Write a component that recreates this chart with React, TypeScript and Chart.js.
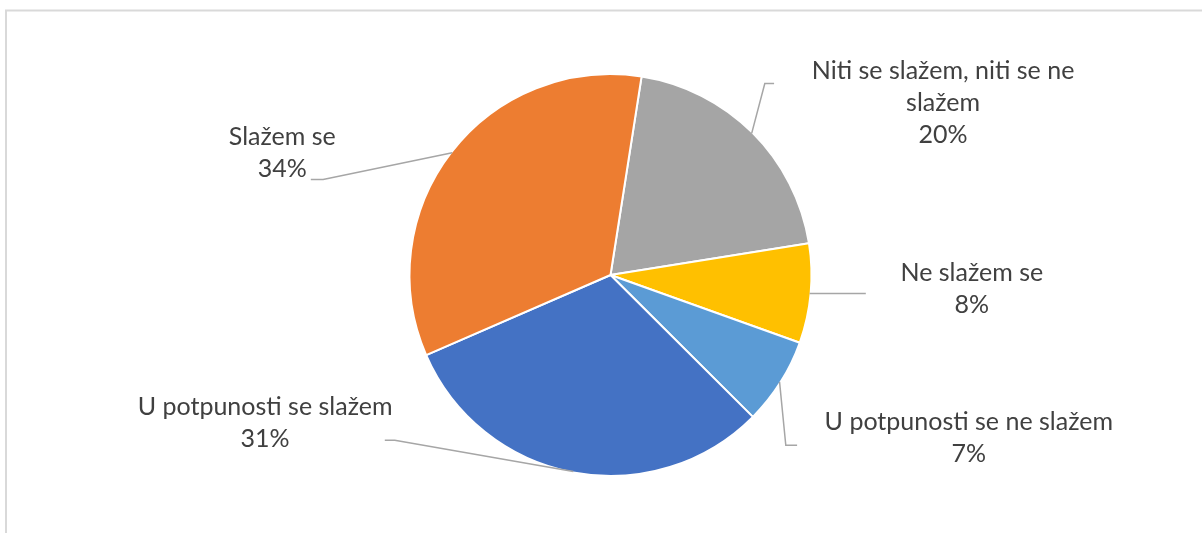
import React, { useEffect, useRef } from "react";
import { Chart, registerables } from "chart.js";

Chart.register(...registerables);

// ---- Data ----
const categories = [
  "Niti se slažem, niti se ne slažem",
  "Ne slažem se",
  "U potpunosti se ne slažem",
  "U potpunosti se slažem",
  "Slažem se",
];
const labelLines = [
  ["Niti se slažem, niti se ne", "slažem"],
  ["Ne slažem se"],
  ["U potpunosti se ne slažem"],
  ["U potpunosti se slažem"],
  ["Slažem se"],
];
const percentages = [20, 8, 7, 31, 34];
const colors = ["#A5A5A5", "#FFC000", "#5B9BD5", "#4472C4", "#ED7D31"];

// ---- Label layout (offsets relative to pie centre, px) ----
// tx: text centre x, ty: first baseline y, ex/ey: leader elbow, lx/ly: leader end
const labelLayout = [
  { tx: 332.6, ty: -195.8, ex: 154.3, ey: -191.5, lx: 163.6, ly: -191.5 },
  { tx: 361.3, ty: 5.9, ex: 239.3, ey: 18.5, lx: 255.3, ly: 18.5 },
  { tx: 358.3, ty: 154.5, ex: 175.3, ey: 170.2, lx: 186.6, ly: 170.2 },
  { tx: -345.4, ty: 140.2, ex: -215.7, ey: 165.2, lx: -225.7, ly: 165.2 },
  { tx: -328.2, ty: -129.8, ex: -287.4, ey: -95.5, lx: -299.7, ly: -95.5 },
];

const FONT = "25px Lato, 'Open Sans', sans-serif";
const LINE_H = 32;

const framePlugin = {
  id: "frame",
  beforeDraw(chart: any) {
    const ctx = chart.ctx;
    ctx.save();
    ctx.fillStyle = "#ffffff";
    ctx.fillRect(0, 0, chart.width, chart.height);
    ctx.strokeStyle = "#d9d9d9";
    ctx.lineWidth = 2;
    ctx.beginPath();
    ctx.moveTo(6, chart.height + 5);
    ctx.lineTo(6, 10.5);
    ctx.lineTo(chart.width + 5, 10.5);
    ctx.stroke();
    ctx.restore();
  },
};

const labelPlugin = {
  id: "pieLabels",
  afterDatasetsDraw(chart: any) {
    const ctx = chart.ctx;
    const meta = chart.getDatasetMeta(0);
    const data = chart.data.datasets[0].data as number[];
    const total = data.reduce((a, b) => a + b, 0);
    ctx.save();
    meta.data.forEach((arc: any, i: number) => {
      const p = arc.getProps(["x", "y", "startAngle", "endAngle", "outerRadius"], true);
      const mid = (p.startAngle + p.endAngle) / 2;
      const r = p.outerRadius - 1;
      const sx = p.x + Math.cos(mid) * r;
      const sy = p.y + Math.sin(mid) * r;
      const L = labelLayout[i];
      // leader line
      ctx.strokeStyle = "#a6a6a6";
      ctx.lineWidth = 1.5;
      ctx.beginPath();
      ctx.moveTo(sx, sy);
      ctx.lineTo(p.x + L.ex, p.y + L.ey);
      ctx.lineTo(p.x + L.lx, p.y + L.ly);
      ctx.stroke();
      // text
      ctx.fillStyle = "#404040";
      ctx.font = FONT;
      ctx.textAlign = "center";
      ctx.textBaseline = "alphabetic";
      const lines = [...labelLines[i], Math.round((data[i] / total) * 100) + "%"];
      lines.forEach((t, k) => {
        ctx.fillText(t, p.x + L.tx, p.y + L.ty + k * LINE_H);
      });
    });
    ctx.restore();
  },
};

export default function App() {
  const ref = useRef<HTMLCanvasElement | null>(null);
  useEffect(() => {
    if (!ref.current) return;
    const chart = new Chart(ref.current, {
      type: "pie",
      data: {
        labels: categories,
        datasets: [
          {
            data: percentages,
            backgroundColor: colors,
            borderColor: "#ffffff",
            borderWidth: 2,
            radius: 201,
          } as any,
        ],
      },
      options: {
        animation: false,
        responsive: false,
        devicePixelRatio: 1,
        rotation: 8.9,
        layout: { padding: { left: 410, right: 391, top: 75, bottom: 58 } },
        plugins: {
          legend: { display: false },
          tooltip: { enabled: false },
        },
      },
      plugins: [framePlugin, labelPlugin],
    });
    return () => chart.destroy();
  }, []);
  return (
    <div style={{ position: "absolute", left: 0, top: 0, width: 1202, height: 533 }}>
      <canvas ref={ref} width={1202} height={533} style={{ display: "block" }} />
    </div>
  );
}
